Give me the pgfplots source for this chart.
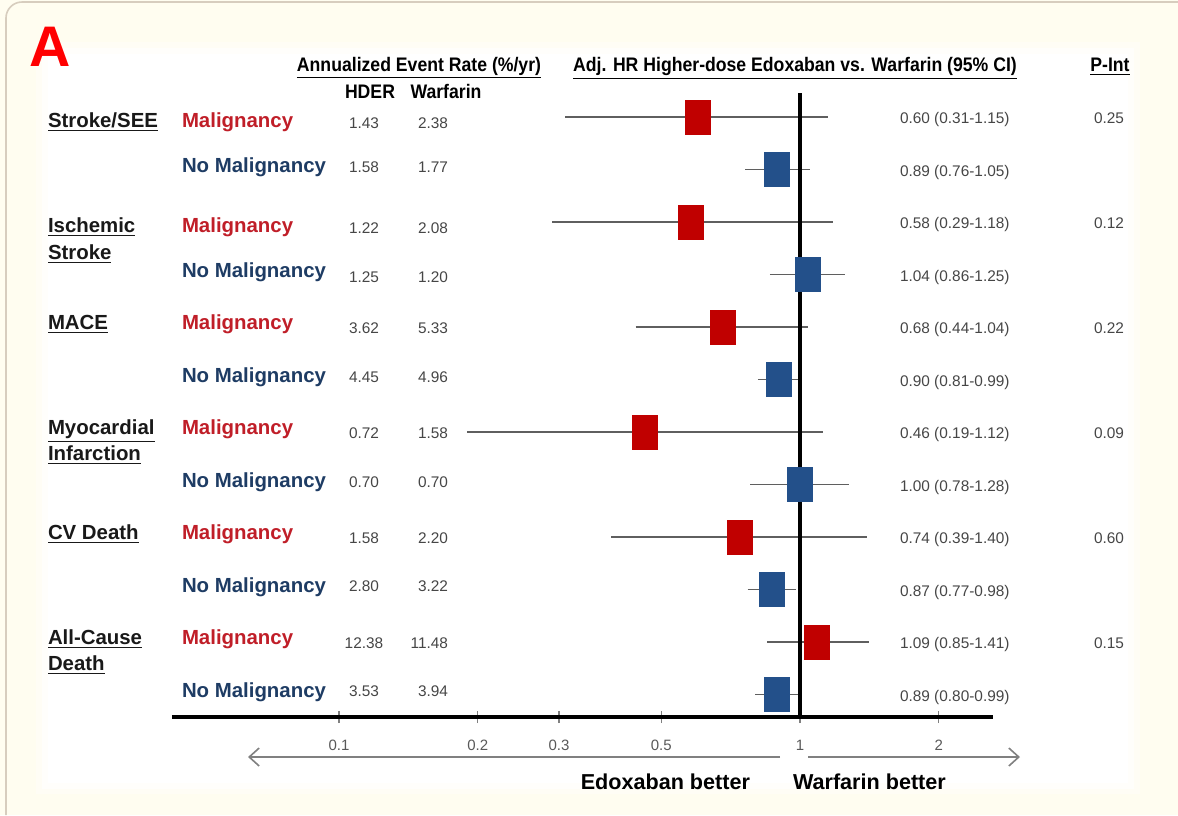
\documentclass[border=0pt]{standalone}
\usepackage{pgfplots}
\pgfplotsset{compat=1.18}
\usetikzlibrary{arrows.meta}
\usepackage{fontspec}
\setmainfont{Liberation Sans}
\newfontfamily\narrowfont[FakeStretch=0.9]{Liberation Sans}

\definecolor{boxred}{RGB}{192,0,0}
\definecolor{boxblue}{RGB}{35,80,138}
\definecolor{txtred}{RGB}{192,30,40}
\definecolor{txtblue}{RGB}{30,60,100}
\definecolor{cream}{RGB}{255,253,240}
\definecolor{numgray}{RGB}{70,70,70}
\definecolor{cigray}{RGB}{95,95,95}
\definecolor{framegray}{RGB}{215,205,190}

\newcommand{\lbl}{\bfseries\fontsize{10.2}{12}\selectfont}
\newcommand{\hdr}{\narrowfont\bfseries\fontsize{9.8}{11}\selectfont}
\newcommand{\num}{\fontsize{7.7}{9}\selectfont\color{numgray}}

% square marker for the hazard ratios
\pgfdeclareplotmark{hrbox}{%
  \pgfpathrectangle{\pgfqpoint{-6.5pt}{-8.75pt}}{\pgfqpoint{13pt}{17.5pt}}%
  \pgfusepathqfill}

\begin{document}
\begin{tikzpicture}
\path[use as bounding box] (0,0) rectangle (589pt,-407.5pt);

% background panel
\begin{scope}[x=0.5pt,y=-0.5pt]
  \fill[cream] (0,0) rectangle (1178,815);
  \fill[white, opacity=0.35] (36,42) rectangle (1140,794);
  \fill[white, opacity=0.6] (42,48) rectangle (1134,789);
  \fill[white] (48,54) rectangle (1128,783);
  \draw[framegray, line width=0.8pt, rounded corners=8pt] (6,815) -- (6,2) -- (1178,2);
\end{scope}

\begin{axis}[
  at={(86pt,-358.5pt)}, anchor=south west,
  width=410.5pt, height=312pt, scale only axis,
  xmode=log, xmin=0.043424, xmax=2.6227,
  ymin=-0.457143, ymax=11.428571, y dir=reverse,
  axis x line=bottom, axis y line=none,
  x axis line style={line width=2.2pt, -},
  xtick={0.1,0.2,0.3,0.5,1,2},
  xticklabels={0.1,0.2,0.3,0.5,1,2},
  minor xtick={},
  xtick align=center, major tick length=6pt,
  tick style={gray, line width=0.6pt},
  /pgf/number format/assume math mode=true,
  xticklabel style={font=\fontsize{7.5}{9}\selectfont, text=black!65, anchor=base, yshift=-13.5pt},
  clip=false,
]
% confidence intervals
\addplot[cigray, line width=0.75pt] coordinates {(0.31,0) (1.15,0)};
\addplot[cigray, line width=0.75pt] coordinates {(0.76,1) (1.05,1)};
\addplot[cigray, line width=0.75pt] coordinates {(0.29,2) (1.18,2)};
\addplot[cigray, line width=0.75pt] coordinates {(0.86,3) (1.25,3)};
\addplot[cigray, line width=0.75pt] coordinates {(0.44,4) (1.04,4)};
\addplot[cigray, line width=0.75pt] coordinates {(0.81,5) (0.99,5)};
\addplot[cigray, line width=0.75pt] coordinates {(0.19,6) (1.12,6)};
\addplot[cigray, line width=0.75pt] coordinates {(0.78,7) (1.28,7)};
\addplot[cigray, line width=0.75pt] coordinates {(0.39,8) (1.40,8)};
\addplot[cigray, line width=0.75pt] coordinates {(0.77,9) (0.98,9)};
\addplot[cigray, line width=0.75pt] coordinates {(0.85,10) (1.41,10)};
\addplot[cigray, line width=0.75pt] coordinates {(0.80,11) (0.99,11)};
% line of no effect
\addplot[black, line width=2pt] coordinates {(1,-0.457143) (1,11.428571)};
% point estimates
\addplot[only marks, mark=hrbox, boxred] coordinates {
  (0.60,0) (0.58,2) (0.68,4) (0.46,6) (0.74,8) (1.09,10)};
\addplot[only marks, mark=hrbox, boxblue] coordinates {
  (0.89,1) (1.04,3) (0.90,5) (1.00,7) (0.87,9) (0.89,11)};
\end{axis}

\begin{scope}[x=0.5pt,y=-0.5pt, every node/.style={inner sep=0pt, outer sep=0pt}]
  % panel letter
  \node[anchor=base west, text=red] at (29,66) {\bfseries\fontsize{28.6}{30}\selectfont A};

  % column headers
  \node[anchor=base] at (419,71) {\hdr\underline{Annualized Event Rate (\%/yr)}};
  \node[anchor=base] at (370,98) {\hdr HDER};
  \node[anchor=base] at (446,98) {\hdr Warfarin};
  \node[anchor=base] at (795,71) {\hdr\underline{Adj. HR Higher-dose Edoxaban vs. Warfarin (95\% CI)}};
  \node[anchor=base] at (1110,71) {\hdr\underline{P-Int}};

  % outcomes
  \begin{scope}[every node/.append style={anchor=base west, text=black!90}]
    \node at (48,127) {\lbl\underline{Stroke/SEE}};
    \node at (48,232) {\lbl\underline{Ischemic}};
    \node at (48,259) {\lbl\underline{Stroke}};
    \node at (48,329) {\lbl\underline{MACE}};
    \node at (48,434) {\lbl\underline{Myocardial}};
    \node at (48,460) {\lbl\underline{Infarction}};
    \node at (48,539) {\lbl\underline{CV Death}};
    \node at (48,644) {\lbl\underline{All-Cause}};
    \node at (48,670) {\lbl\underline{Death}};
  \end{scope}

  % subgroups
  \foreach \y in {127,232,329,434,539,644}
    \node[anchor=base west, text=txtred] at (182,\y) {\lbl Malignancy};
  \foreach \y in {172,277,382,487,592,697}
    \node[anchor=base west, text=txtblue] at (182,\y) {\lbl No Malignancy};

  % annualized event rates: HDER / warfarin
  \foreach \y/\a/\b in {128/1.43/2.38, 172/1.58/1.77, 233/1.22/2.08, 282/1.25/1.20,
                        333/3.62/5.33, 382/4.45/4.96, 438/0.72/1.58, 487/0.70/0.70,
                        543/1.58/2.20, 591/2.80/3.22, 648/12.38/11.48, 696/3.53/3.94} {
    \node[anchor=base] at (364,\y) {\num\a};
    \node[anchor=base east] at (448,\y) {\num\b};
  }

  % hazard ratios with 95% CI
  \foreach \y/\t in {123.5/{0.60 (0.31-1.15)}, 176/{0.89 (0.76-1.05)},
                     228.5/{0.58 (0.29-1.18)}, 281/{1.04 (0.86-1.25)},
                     333.5/{0.68 (0.44-1.04)}, 386/{0.90 (0.81-0.99)},
                     438.5/{0.46 (0.19-1.12)}, 491/{1.00 (0.78-1.28)},
                     543.5/{0.74 (0.39-1.40)}, 596/{0.87 (0.77-0.98)},
                     648.5/{1.09 (0.85-1.41)}, 701/{0.89 (0.80-0.99)}}
    \node[anchor=base west] at (900,\y) {\num\t};

  % interaction p-values
  \foreach \y/\p in {123.5/0.25, 228.5/0.12, 333.5/0.22, 438.5/0.09, 543.5/0.60, 648.5/0.15}
    \node[anchor=base west] at (1094,\y) {\num\p};

  % direction arrows
  \draw[black!50, line width=0.8pt, -{Straight Barb[length=5pt,width=9pt]}] (780,757) -- (248,757);
  \draw[black!50, line width=0.8pt, -{Straight Barb[length=5pt,width=9pt]}] (808,757) -- (1020,757);
  \node[anchor=base east] at (750,789) {\bfseries\fontsize{10.8}{12}\selectfont Edoxaban better};
  \node[anchor=base west] at (793,789) {\bfseries\fontsize{10.8}{12}\selectfont Warfarin better};
\end{scope}
\end{tikzpicture}
\end{document}
